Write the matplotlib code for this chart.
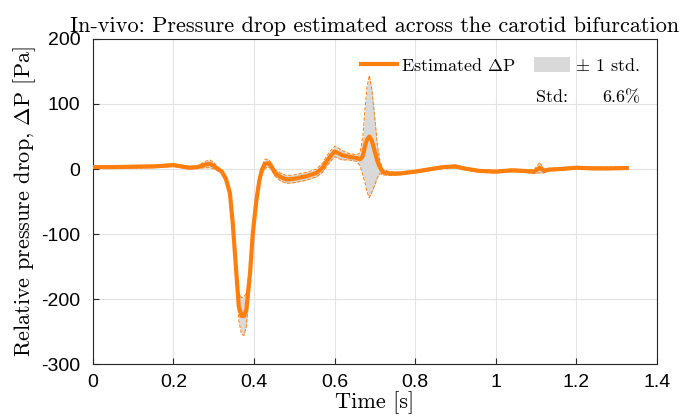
import matplotlib
matplotlib.use("Agg")
import matplotlib.pyplot as plt
from matplotlib.patches import Patch
import numpy as np

plt.rcParams['mathtext.fontset'] = 'cm'

# values
time_s = [0.0, 0.05, 0.10, 0.15, 0.20, 0.22, 0.24, 0.26, 0.28, 0.29, 0.30, 0.31, 0.32,
          0.33, 0.34, 0.347, 0.356, 0.362, 0.369, 0.375, 0.381, 0.39, 0.397, 0.406,
          0.413, 0.419, 0.427, 0.435, 0.441, 0.452, 0.465, 0.48, 0.50, 0.514, 0.53,
          0.555, 0.57, 0.58, 0.59, 0.60, 0.61, 0.62, 0.635, 0.654, 0.663, 0.67, 0.675,
          0.68, 0.686, 0.692, 0.70, 0.706, 0.712, 0.72, 0.737, 0.76, 0.80, 0.84, 0.87,
          0.90, 0.92, 0.96, 1.00, 1.04, 1.07, 1.095, 1.109, 1.12, 1.13, 1.16, 1.20,
          1.24, 1.28, 1.325]
dp_mean = [3, 3, 3.5, 4, 6, 4, 2, 3, 7, 8, 5, 0, -4,
           -15, -37, -83, -160, -211, -226, -226, -216, -160, -98, -47,
           -18, -2, 8, 9, 6, -6, -12, -16, -15, -13, -11,
           -6, 2, 12, 20, 27, 24, 21, 19, 17, 15, 20, 35,
           45, 50, 44, 26, 12, 3, -5, -7, -7, -4, 0, 3,
           4, 1, -3, -4, -2, -3, -4, 2, -3, -1, 0, 2,
           1, 1, 1.5]
dp_std = [2, 2, 2, 2, 2, 2, 2, 2, 5, 6, 5, 3, 3,
          4, 8, 10, 15, 22, 28, 30, 25, 15, 10, 8,
          6, 6, 7, 6, 5, 5, 6, 6, 6, 6, 6,
          6, 7, 8, 8, 8, 8, 7, 5, 5, 10, 30, 55,
          80, 94, 80, 50, 25, 10, 4, 3, 2, 2, 2, 2,
          2, 2, 2, 2, 2, 2, 3, 8, 3, 2, 2, 2,
          2, 2, 2]

orange = '#ff7f0e'
cm_font = 'cmr10'

t = np.array(time_s)
m = np.array(dp_mean)
s = np.array(dp_std)

fig = plt.figure(figsize=(6.83, 4.19), dpi=100)
ax = fig.add_axes([0.136, 0.131, 0.826, 0.776])

ax.fill_between(t, m - s, m + s, color='#d9d9d9', linewidth=0, zorder=2)
ax.plot(t, m + s, '--', color=orange, linewidth=0.7, zorder=3)
ax.plot(t, m - s, '--', color=orange, linewidth=0.7, zorder=3)
line, = ax.plot(t, m, color=orange, linewidth=3.0, zorder=4)

ax.set_xlim(0, 1.4)
ax.set_ylim(-300, 200)
ax.set_xticks(np.arange(0, 1.41, 0.2))
ax.set_yticks(np.arange(-300, 201, 100))
ax.set_xticklabels(['0', '0.2', '0.4', '0.6', '0.8', '1', '1.2', '1.4'])
ax.set_yticklabels(['-300', '-200', '-100', '0', '100', '200'])
ax.grid(True, color='#e3e3e3', linewidth=0.8, zorder=0)
ax.set_axisbelow(True)
ax.tick_params(direction='in', length=4, labelsize=14, colors='#262626',
               labelcolor='black', top=False, right=False)
ax.tick_params(axis='y', pad=9)
ax.tick_params(axis='x', pad=7)
for lab in ax.get_xticklabels() + ax.get_yticklabels():
    lab.set_family('Liberation Sans')
for sp in ax.spines.values():
    sp.set_color('#262626')
    sp.set_linewidth(0.8)

ax.set_title('In-vivo: Pressure drop estimated across the carotid bifurcation',
             family=cm_font, fontsize=16, pad=5)
ax.set_xlabel('Time [s]', family=cm_font, fontsize=16, labelpad=0)
ax.set_ylabel(r'Relative pressure drop, $\Delta$P [Pa]', family=cm_font,
              fontsize=16, labelpad=2)

patch = Patch(facecolor='#d9d9d9', edgecolor='none')
ax.legend([line, patch], [r'Estimated $\Delta$P', r'$\pm$ 1 std.'], ncol=2,
          frameon=False, loc='upper right', bbox_to_anchor=(0.998, 0.995),
          prop={'family': cm_font, 'size': 13}, handlelength=2.0,
          handleheight=0.9, columnspacing=1.0, handletextpad=0.25)
ax.text(0.785, 0.82, 'Std:', transform=ax.transAxes, family=cm_font, fontsize=13,
        va='center', ha='left')
ax.text(0.97, 0.82, '6.6%', transform=ax.transAxes, family=cm_font, fontsize=13,
        va='center', ha='right')

fig.savefig('out.png', dpi=100)
